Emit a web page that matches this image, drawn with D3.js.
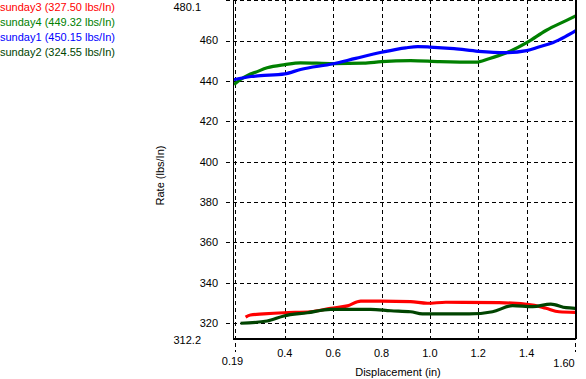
<!DOCTYPE html>
<html>
<head>
<meta charset="utf-8">
<script src="https://cdn.jsdelivr.net/npm/d3@7"></script>
<style>
  html, body { margin: 0; padding: 0; background: #fff; }
  svg { display: block; }
  text { font-family: "Liberation Sans", Arial, sans-serif; font-size: 11px; }
</style>
</head>
<body>
<script>
// ---- data ----
const seriesNames = ["sunday3", "sunday4", "sunday1", "sunday2"];
const seriesRates = ["327.50", "449.32", "450.15", "324.55"];
const seriesColors = ["#ff0000", "#008000", "#0000ff", "#004400"];

const sunday3 = [[0.238,323.0],[0.258,324.1],[0.313,324.6],[0.396,325.2],[0.507,325.7],[0.59,327.4],[0.659,328.6],[0.714,331.0],[0.797,331.0],[0.92,330.7],[0.99,329.9],[1.066,330.4],[1.286,330.2],[1.425,329.0],[1.48,327.4],[1.534,325.7],[1.604,325.4]];
const sunday4 = [[0.19,438.2],[0.217,440.7],[0.25,443.0],[0.279,444.3],[0.327,446.5],[0.40,448.1],[0.465,449.0],[0.60,448.6],[0.726,448.8],[0.80,449.6],[0.92,450.1],[1.04,449.6],[1.19,449.3],[1.244,451.0],[1.314,453.8],[1.404,459.2],[1.48,465.0],[1.563,469.9],[1.604,472.3]];
const sunday1 = [[0.19,440.6],[0.26,442.2],[0.30,442.6],[0.40,443.5],[0.465,445.7],[0.60,448.5],[0.693,451.2],[0.80,454.2],[0.90,456.4],[0.95,457.0],[1.00,456.8],[1.10,456.0],[1.20,454.7],[1.31,454.0],[1.40,455.0],[1.45,456.8],[1.51,459.1],[1.56,462.0],[1.604,465.0]];
const sunday2 = [[0.217,320.0],[0.327,321.1],[0.396,323.6],[0.493,325.2],[0.59,326.9],[0.755,326.9],[0.838,326.2],[0.92,325.7],[0.969,324.6],[1.162,324.6],[1.259,325.7],[1.342,328.7],[1.425,328.2],[1.50,329.5],[1.563,327.7],[1.604,327.4]];
const seriesData = [sunday3, sunday4, sunday1, sunday2];

const xDomain = [0.19, 1.60];
const yDomain = [312.2, 480.1];
const xTicks = [0.4, 0.6, 0.8, 1.0, 1.2, 1.4];
const yTicks = [320, 340, 360, 380, 400, 420, 440, 460];
const xEndLabels = ["0.19", "1.60"];
const yEndLabels = ["312.2", "480.1"];
const xTitle = "Displacement (in)";
const yTitle = "Rate (lbs/In)";

// ---- layout ----
const W = 586, H = 379;
const pL = 234, pR = 575, pT = 0, pB = 339;

const svg = d3.select("body").append("svg").attr("width", W).attr("height", H);

const x = d3.scaleLinear().domain(xDomain).range([pL, pR]);
const y = d3.scaleLinear().domain(yDomain).range([pB, pT]);

const grid = svg.append("g").attr("stroke", "#000").attr("stroke-width", 1)
  .attr("stroke-dasharray", "4,3").attr("shape-rendering", "crispEdges");

yTicks.concat([yDomain[1]]).forEach(v => {
  const yy = Math.round(y(v)) + 0.5;
  grid.append("line").attr("x1", pL - 8).attr("x2", pR).attr("y1", yy).attr("y2", yy);
});
xTicks.forEach(v => {
  const xx = Math.round(x(v)) + 0.5;
  grid.append("line").attr("x1", xx).attr("x2", xx).attr("y1", pT).attr("y2", pB);
});
// end gridlines extend below the axis
xDomain.forEach((v, i) => {
  const xx = Math.round(x(v)) + (i === 0 ? 1.5 : 0.5);
  grid.append("line").attr("x1", xx).attr("x2", xx).attr("y1", pT).attr("y2", pB + 13);
});

svg.append("clipPath").attr("id", "clip").append("rect")
  .attr("x", pL - 1).attr("y", pT).attr("width", pR - pL + 1).attr("height", pB - pT);

const line = d3.line().x(d => x(d[0])).y(d => y(d[1])).curve(d3.curveMonotoneX);
const lines = svg.append("g").attr("clip-path", "url(#clip)");
seriesData.forEach((s, i) => {
  lines.append("path").datum(s).attr("d", line)
    .attr("fill", "none").attr("stroke", seriesColors[i]).attr("stroke-width", 3.2)
    .attr("stroke-linejoin", "round");
});

const frame = svg.append("g").attr("stroke", "#000").attr("shape-rendering", "crispEdges");
frame.append("line").attr("x1", pL - 0.5).attr("x2", pL - 0.5).attr("y1", pT).attr("y2", pB + 1).attr("stroke-width", 1.5);
frame.append("line").attr("x1", pL - 1).attr("x2", pR + 1).attr("y1", pB).attr("y2", pB).attr("stroke-width", 2);
frame.append("line").attr("x1", pR + 0.5).attr("x2", pR + 0.5).attr("y1", pT).attr("y2", pB).attr("stroke-width", 2);

const yl = svg.append("g").attr("fill", "#000");
yTicks.forEach(v => {
  yl.append("text").attr("x", 218).attr("y", y(v)).attr("dy", "0.35em")
    .attr("text-anchor", "end").text(v);
});
yl.append("text").attr("x", 201).attr("y", 7).attr("dy", "0.35em").attr("text-anchor", "end").text(yEndLabels[1]);
yl.append("text").attr("x", 201).attr("y", 340).attr("dy", "0.35em").attr("text-anchor", "end").text(yEndLabels[0]);

xTicks.forEach(v => {
  yl.append("text").attr("x", x(v)).attr("y", 353).attr("dy", "0.35em")
    .attr("text-anchor", "middle").text(v.toFixed(1));
});
yl.append("text").attr("x", 232.5).attr("y", 361).attr("dy", "0.35em").attr("text-anchor", "middle").text(xEndLabels[0]);
yl.append("text").attr("x", 564).attr("y", 363).attr("dy", "0.35em").attr("text-anchor", "middle").text(xEndLabels[1]);

yl.append("text").attr("x", 398).attr("y", 372).attr("dy", "0.35em").attr("text-anchor", "middle").text(xTitle);
yl.append("text").attr("transform", "translate(160,175.5) rotate(-90)").attr("dy", "0.35em")
  .attr("text-anchor", "middle").text(yTitle);

seriesNames.forEach((n, i) => {
  svg.append("text").attr("x", 0).attr("y", 7.5 + i * 15).attr("dy", "0.35em")
    .attr("fill", seriesColors[i]).text(`${n} (${seriesRates[i]} lbs/In)`);
});
</script>
</body>
</html>
